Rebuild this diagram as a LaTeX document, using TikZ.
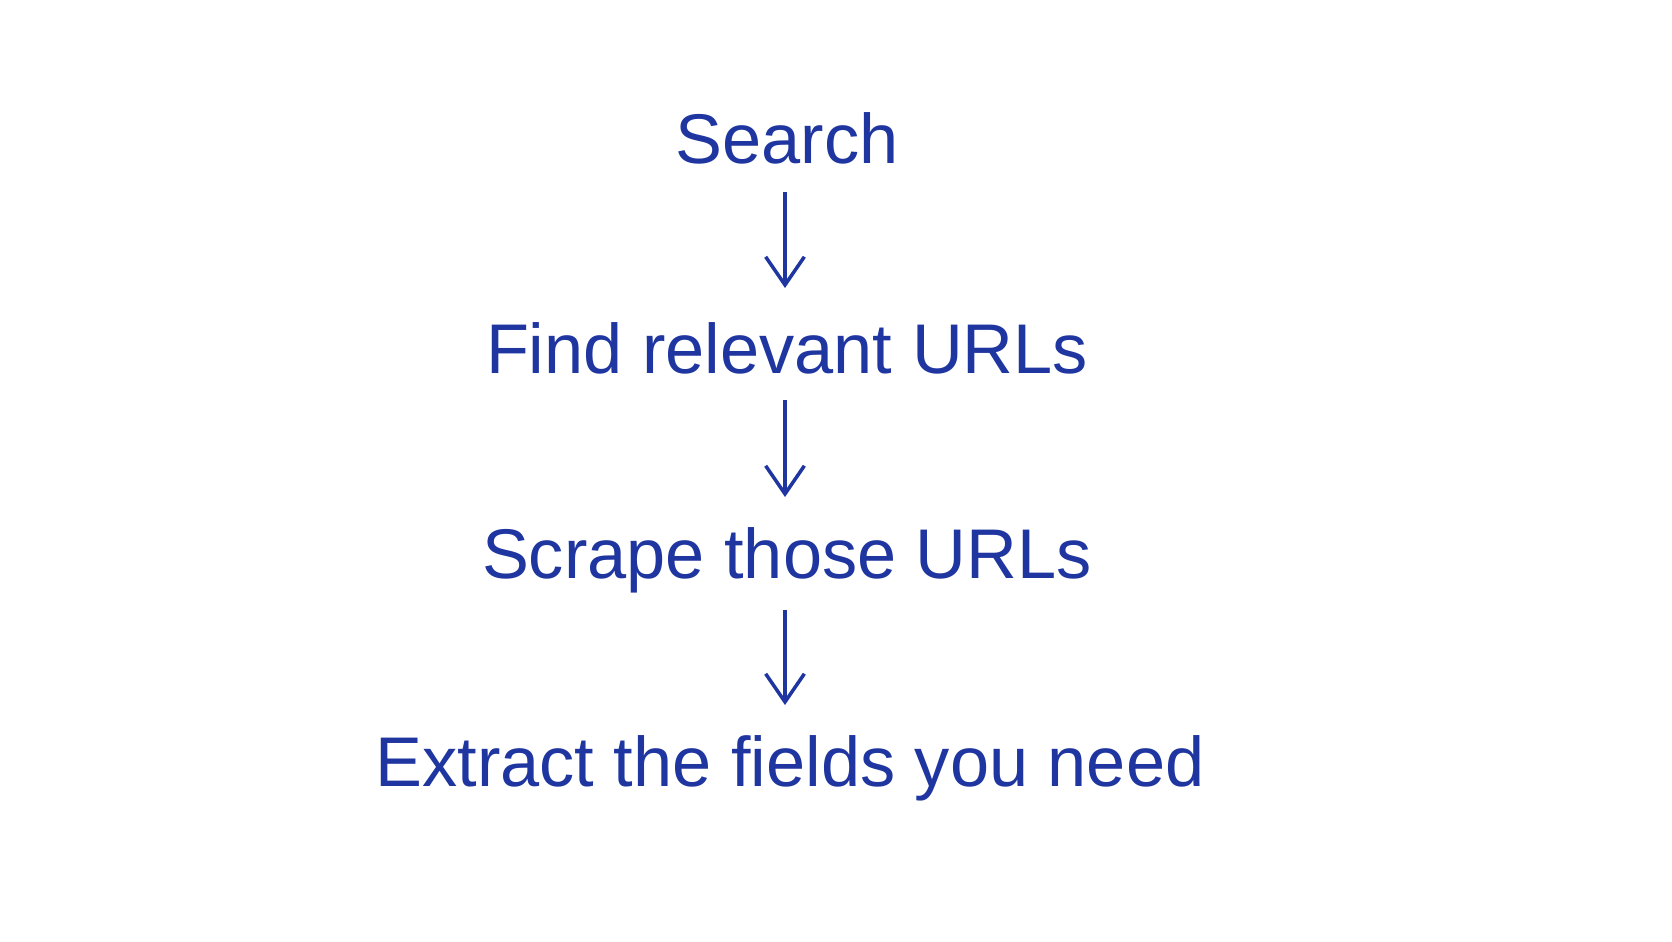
\documentclass[tikz,border=0pt]{standalone}
\usepackage{fontspec}
\setmainfont{Liberation Sans}
\usetikzlibrary{arrows.meta}
\definecolor{ink}{HTML}{1F35A0}
\begin{document}
\begin{tikzpicture}[x=0.01cm,y=-0.01cm,
  lbl/.style={text=ink,font=\fontsize{20}{24}\selectfont,inner sep=0pt},
  arr/.style={draw=ink,line width=1pt,-{Straight Barb[length=8pt,width=11pt,line width=1pt]}}]
\useasboundingbox (0,0) rectangle (1672,941);
\node[lbl] (s) at (787,138) {Search};
\node[lbl] (f) at (787,348) {Find relevant URLs};
\node[lbl] (c) at (787,560) {Scrape those URLs};
\node[lbl] (e) at (790,768) {Extract the fields you need};
\coordinate (a1) at (785,192); \coordinate (b1) at (785,288);
\coordinate (a2) at (785,400); \coordinate (b2) at (785,497);
\coordinate (a3) at (785,610); \coordinate (b3) at (785,705);
\draw[arr] (a1) -- (b1);
\draw[arr] (a2) -- (b2);
\draw[arr] (a3) -- (b3);
\end{tikzpicture}
\end{document}
